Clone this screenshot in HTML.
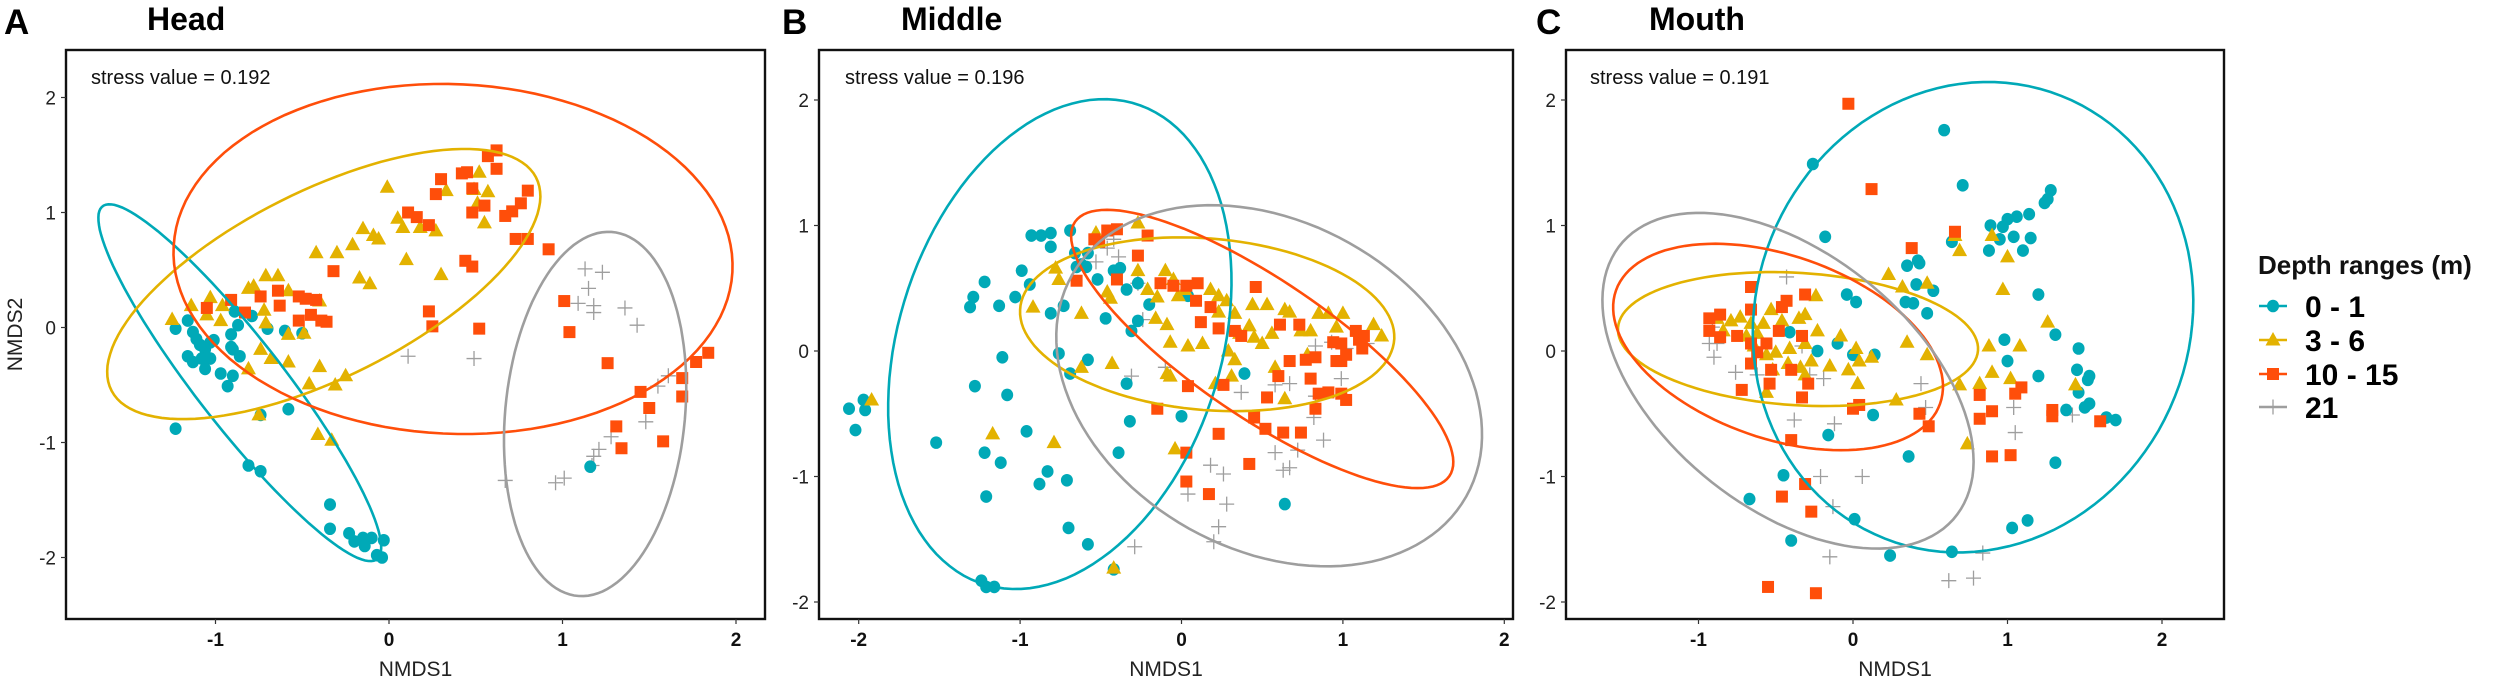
<!DOCTYPE html>
<html><head><meta charset="utf-8"><title>NMDS depth ranges</title>
<style>
html,body{margin:0;padding:0;background:#fff;}
svg{display:block;font-family:"Liberation Sans",Arial,sans-serif;}
</style></head>
<body>
<svg id="chart" width="2500" height="681" viewBox="0 0 2500 681" xmlns="http://www.w3.org/2000/svg"></svg>
<script>
// ---------- DATA ----------
const groupNames = ["0 - 1","3 - 6","10 - 15","21"];
const stressValues = ["0.192","0.196","0.191"];
const panelTitles = ["Head","Middle","Mouth"];
const panelLetters = ["A","B","C"];
const yTicks = [-2,-1,0,1,2];
const xTicksA = [-1,0,1,2];
const xTicksB = [-2,-1,0,1,2];
const xTicksC = [-1,0,1,2];

// Panel A (Head)
const headTealX = [-1.23,-1.16,-1.13,-1.11,-1.09,-1.06,-1.03,-1.01,-1.16,-1.13,-1.08,-1.03,-1.06,-0.97,-0.93,-0.90,-0.89,-0.87,-0.91,-0.91,-0.90,-0.86,-0.79,-0.70,-0.60,-0.50,-0.74,-0.58,-1.23,-0.81,-0.74,-0.34,-0.34,-0.23,-0.20,-0.15,-0.10,-0.14,-0.03,-0.07,-0.04,1.16];
const headTealY = [-0.01,0.06,-0.04,-0.10,-0.15,-0.19,-0.13,-0.11,-0.25,-0.30,-0.27,-0.27,-0.36,-0.40,-0.51,-0.42,0.14,0.02,-0.06,-0.17,-0.19,-0.25,0.10,-0.01,-0.03,-0.05,-0.76,-0.71,-0.88,-1.20,-1.25,-1.54,-1.75,-1.79,-1.86,-1.83,-1.83,-1.90,-1.85,-1.98,-2.00,-1.21];
const headYellowX = [-1.25,-1.14,-1.03,-1.05,-0.97,-0.96,-0.81,-0.78,-0.71,-0.64,-0.72,-0.71,-0.58,-0.40,-0.49,-0.58,-0.74,-0.68,-0.58,-0.81,-0.40,-0.46,-0.31,-0.25,-0.75,-0.41,-0.33,-0.42,-0.30,-0.21,-0.15,-0.09,-0.06,-0.17,-0.11,-0.01,0.05,0.08,0.18,0.27,0.10,0.30,0.33,0.52,0.49,0.57,0.55,0.51];
const headYellowY = [0.07,0.19,0.26,0.11,0.06,0.19,0.34,0.36,0.45,0.45,0.15,0.04,0.32,0.23,-0.05,-0.06,-0.19,-0.27,-0.30,-0.36,-0.34,-0.49,-0.50,-0.42,-0.76,-0.93,-0.98,0.65,0.65,0.72,0.86,0.80,0.77,0.43,0.38,1.22,0.95,0.87,0.87,0.84,0.59,0.46,1.19,1.35,1.20,1.18,0.91,1.08];
const headRedX = [-1.05,-0.91,-0.83,-0.74,-0.64,-0.63,-0.52,-0.48,-0.42,-0.52,-0.39,-0.36,-0.45,-0.32,0.11,0.16,0.23,0.27,0.30,0.42,0.45,0.48,0.48,0.57,0.62,0.62,0.55,0.67,0.71,0.76,0.80,0.73,0.80,0.92,0.44,0.48,0.23,0.25,0.52,1.01,1.04,1.26,1.45,1.50,1.31,1.34,1.58,1.69,1.69,1.77,1.84];
const headRedY = [0.17,0.24,0.13,0.27,0.32,0.19,0.27,0.25,0.24,0.06,0.06,0.05,0.11,0.49,1.00,0.96,0.89,1.16,1.29,1.34,1.35,1.21,1.00,1.49,1.54,1.38,1.06,0.97,1.01,1.08,1.19,0.77,0.77,0.68,0.58,0.53,0.14,0.01,-0.01,0.23,-0.04,-0.31,-0.56,-0.70,-0.86,-1.05,-0.99,-0.44,-0.60,-0.30,-0.22];
const headGrayX = [0.11,0.49,1.13,1.23,1.15,1.09,1.18,1.18,1.36,1.43,1.55,1.61,1.48,1.28,1.21,1.18,1.01,0.96,0.67,1.17];
const headGrayY = [-0.25,-0.27,0.51,0.48,0.34,0.21,0.19,0.13,0.17,0.02,-0.51,-0.42,-0.82,-0.95,-1.06,-1.12,-1.31,-1.35,-1.33,-1.20];

// Panel B (Middle)
const midTealX = [-2.06,-2.02,-1.97,-1.96,-1.52,-1.31,-1.29,-1.22,-1.13,-1.03,-0.99,-0.94,-0.81,-0.73,-0.76,-1.11,-1.28,-1.08,-1.22,-1.12,-1.21,-0.96,-0.83,-0.88,-0.71,-0.70,-0.58,-1.24,-1.16,-1.21,-0.42,-0.39,-0.32,-0.34,-0.69,-0.58,-0.47,-0.31,-0.27,-0.27,-0.34,-0.93,-0.87,-0.81,-0.81,-0.69,-0.66,-0.62,-0.58,-0.52,-0.42,-0.38,-0.65,-0.59,-0.20,0.04,0.00,0.39,0.64];
const midTealY = [-0.46,-0.63,-0.39,-0.47,-0.73,0.35,0.43,0.55,0.36,0.43,0.64,0.53,0.30,0.36,-0.02,-0.05,-0.28,-0.35,-0.81,-0.89,-1.16,-0.64,-0.96,-1.06,-1.03,-1.41,-1.54,-1.83,-1.88,-1.88,-1.74,-0.81,-0.56,-0.26,-0.18,-0.07,0.26,0.16,0.24,0.54,0.49,0.92,0.92,0.94,0.83,0.96,0.78,0.69,0.78,0.57,0.64,0.66,0.67,0.67,0.37,0.44,-0.52,-0.18,-1.22];
const midYellowX = [-1.92,-1.17,-0.79,-0.04,-0.42,-0.92,-0.78,-0.76,-0.62,-0.53,-0.46,-0.44,-0.27,-0.27,-0.21,-0.15,-0.10,-0.05,-0.02,0.02,-0.09,-0.16,-0.07,0.04,0.13,0.18,0.23,0.28,0.23,0.33,0.29,0.33,0.31,0.21,0.36,0.42,0.45,0.50,0.44,0.53,0.56,0.58,0.64,0.67,0.74,0.80,0.78,0.85,0.91,1.00,0.96,1.19,1.24,-0.62,-0.43,-0.09,-0.07,0.64];
const midYellowY = [-0.39,-0.66,-0.73,-0.78,-1.73,0.35,0.66,0.57,0.30,0.94,0.47,0.42,1.02,0.64,0.49,0.43,0.64,0.57,0.44,0.49,0.21,0.26,0.07,0.04,0.06,0.49,0.44,0.40,0.31,0.30,0.00,-0.07,-0.20,-0.26,0.14,0.20,0.11,0.06,0.37,0.37,0.14,-0.13,0.33,0.31,0.16,0.16,-0.03,0.30,0.30,0.30,0.19,0.21,0.12,-0.13,-0.10,-0.18,-0.20,-0.38];
const midRedX = [-0.65,-0.54,-0.51,-0.46,-0.40,-0.40,-0.27,-0.21,-0.13,-0.05,0.03,0.10,0.09,0.18,0.12,0.23,0.33,0.37,0.46,0.61,0.73,0.67,0.77,0.83,0.80,0.85,0.91,0.83,0.94,0.99,1.08,1.10,1.12,0.99,1.02,0.96,0.99,1.02,-0.15,0.04,0.26,0.53,0.45,0.52,0.63,0.74,0.23,0.42,0.03,0.03,0.17,0.60,1.13];
const midRedY = [0.56,0.89,0.87,0.96,0.97,0.57,0.76,0.92,0.54,0.52,0.52,0.54,0.40,0.35,0.23,0.18,0.16,0.12,0.51,0.21,0.21,-0.08,-0.07,-0.05,-0.22,-0.34,-0.33,-0.46,0.07,0.06,0.16,0.09,0.02,-0.08,-0.03,-0.08,-0.34,-0.39,-0.46,-0.28,-0.27,-0.37,-0.53,-0.62,-0.65,-0.65,-0.66,-0.90,-0.81,-1.04,-1.14,-0.20,0.12];
const midGrayX = [-0.42,-0.46,-0.53,-0.39,-0.27,-0.24,-0.31,-0.10,0.37,0.58,0.72,0.63,0.67,0.88,0.18,0.26,0.28,0.23,0.20,-0.29,0.04,0.83,0.93,1.02,1.15,0.99,0.83,0.82,0.58,0.67];
const midGrayY = [0.89,0.82,0.71,0.75,0.54,0.25,-0.20,-0.13,-0.33,-0.81,-0.79,-0.95,-0.93,-0.71,-0.91,-0.98,-1.22,-1.40,-1.52,-1.56,-1.14,0.04,0.07,0.02,0.06,-0.22,-0.36,-0.53,-0.27,-0.26];

// Panel C (Mouth)
const mouthTealX = [0.59,0.71,-0.26,-0.18,1.28,1.26,1.24,1.14,1.06,1.00,0.89,0.97,0.95,1.04,1.15,0.88,1.10,0.64,0.35,0.42,0.43,0.41,0.52,0.34,0.39,0.48,-0.04,0.02,1.20,0.98,1.31,1.00,1.46,1.45,1.53,1.52,1.20,1.46,1.53,1.50,1.38,1.64,1.70,1.31,0.14,-0.10,0.00,-0.23,-0.41,0.13,-0.16,0.36,-0.45,-0.67,0.01,-0.40,0.24,0.64,1.03,1.13];
const mouthTealY = [1.76,1.32,1.49,0.91,1.28,1.21,1.18,1.09,1.07,1.05,1.00,0.99,0.89,0.91,0.90,0.80,0.80,0.87,0.68,0.72,0.70,0.53,0.48,0.39,0.38,0.30,0.45,0.39,0.45,0.09,0.13,-0.08,0.02,-0.15,-0.20,-0.23,-0.20,-0.33,-0.42,-0.45,-0.47,-0.53,-0.55,-0.89,-0.03,0.06,-0.03,0.00,0.15,-0.51,-0.67,-0.84,-0.99,-1.18,-1.34,-1.51,-1.63,-1.60,-1.41,-1.35];
const mouthYellowX = [0.66,0.69,0.90,1.00,0.97,0.23,0.32,0.48,1.26,0.88,1.08,0.35,0.48,0.90,0.69,0.82,1.02,1.44,0.28,0.74,-0.08,0.02,0.12,0.04,-0.03,0.03,-0.15,-0.27,-0.31,-0.24,-0.31,-0.35,-0.23,-0.46,-0.53,-0.58,-0.62,-0.66,-0.73,-0.79,-0.88,-0.84,-0.69,-0.64,-0.56,-0.52,-0.56,-0.50,-0.41,-0.31,-0.42,-0.34];
const mouthYellowY = [0.92,0.80,0.92,0.75,0.49,0.61,0.51,0.54,0.23,0.04,0.04,0.07,-0.03,-0.17,-0.27,-0.26,-0.22,-0.27,-0.39,-0.74,0.12,0.02,-0.05,-0.08,-0.15,-0.26,-0.12,-0.08,-0.19,0.44,0.29,0.26,0.16,0.24,0.33,0.22,0.14,0.22,0.27,0.24,0.26,0.16,0.12,0.04,-0.03,-0.15,-0.33,-0.01,0.02,0.06,-0.10,-0.13];
const mouthRedX = [-0.03,0.12,0.38,0.66,-0.66,-0.31,-0.43,-0.46,-0.66,-0.86,-0.93,-0.93,-0.86,-0.75,-0.66,-0.62,-0.66,-0.53,-0.40,-0.54,-0.72,-0.29,-0.33,0.00,0.04,-0.40,0.43,0.49,0.82,0.82,0.90,1.09,1.05,1.29,1.29,1.60,0.90,1.02,-0.31,-0.46,-0.27,-0.55,-0.24,-0.33,-0.56,-0.48];
const mouthRedY = [1.97,1.29,0.82,0.95,0.51,0.45,0.40,0.35,0.33,0.29,0.26,0.16,0.11,0.12,0.06,-0.01,-0.10,-0.15,-0.15,-0.26,-0.31,-0.26,-0.37,-0.46,-0.43,-0.71,-0.50,-0.60,-0.35,-0.54,-0.48,-0.29,-0.34,-0.47,-0.52,-0.56,-0.84,-0.83,-1.06,-1.16,-1.28,-1.88,-1.93,0.12,0.06,0.16];
const mouthGrayX = [-0.43,-0.91,-0.93,-0.88,-0.90,-0.76,-0.62,-0.33,-0.28,-0.19,0.44,-0.12,-0.38,-0.21,0.06,-0.13,-0.15,0.62,0.78,0.84,1.04,1.05,1.42,0.47];
const mouthGrayY = [0.59,0.19,0.06,0.06,-0.05,-0.17,-0.19,0.04,-0.19,-0.22,-0.26,-0.58,-0.55,-1.00,-1.00,-1.24,-1.64,-1.83,-1.81,-1.61,-0.45,-0.65,-0.51,-0.45];

// Ellipses: [centerX, centerY, axis1X, axis1Y, axis2X, axis2Y] in data units (teal, yellow, red, gray)
const headEllipses = [[-0.86,-0.48,0.785,-1.54,-0.22,-0.19],[-0.376,0.378,1.208,0.965,0.315,-0.67],[0.369,0.596,1.611,-0.035,-0.027,1.522],[1.188,-0.752,0.094,1.583,0.517,-0.052]];
const midEllipses = [[-0.754,0.055,0.399,1.937,0.986,-0.241],[0.159,0.213,1.159,-0.079,-0.036,0.688],[0.5,0.016,1.145,-1.036,-0.301,-0.395],[0.543,-0.277,1.051,-1.146,-0.797,-0.87]];
const mouthEllipses = [[0.777,0.269,0.065,1.874,1.424,0.04],[-0.356,0.095,1.165,-0.063,-0.03,0.53],[-0.485,0.032,1.049,-0.451,-0.198,-0.688],[-0.421,-0.237,1.068,-1.107,-0.55,-0.751]];

// ---------- RENDER ----------
const colors = ["#00a9b7","#e3b200","#ff4e0a","#9e9e9e"];
const NS = "http://www.w3.org/2000/svg";
const svg = document.getElementById("chart");
function mk(tag, attrs, parent){
  const e = document.createElementNS(NS, tag);
  for (const k in attrs) e.setAttribute(k, attrs[k]);
  (parent||svg).appendChild(e);
  return e;
}
function linScale(d0,d1,r0,r1){ return v => r0 + (v-d0)*(r1-r0)/(d1-d0); }

const panels = [
  {frame:[66,50,765,619], x:linScale(0,1,389,562.5), y:linScale(0,1,327.5,212.5), xt:xTicksA, ylab:56,
   series:[[headTealX,headTealY],[headYellowX,headYellowY],[headRedX,headRedY],[headGrayX,headGrayY]], ell:headEllipses,
   letterX:4, titleX:147, stressX:91, nmds2:true},
  {frame:[819,50,1513,619], x:linScale(0,1,1181.5,1342.9), y:linScale(0,1,351,225.5), xt:xTicksB, ylab:809,
   series:[[midTealX,midTealY],[midYellowX,midYellowY],[midRedX,midRedY],[midGrayX,midGrayY]], ell:midEllipses,
   letterX:782, titleX:901, stressX:845},
  {frame:[1566,50,2224,619], x:linScale(0,1,1853,2007.5), y:linScale(0,1,351,225.5), xt:xTicksC, ylab:1556,
   series:[[mouthTealX,mouthTealY],[mouthYellowX,mouthYellowY],[mouthRedX,mouthRedY],[mouthGrayX,mouthGrayY]], ell:mouthEllipses,
   letterX:1536, titleX:1649, stressX:1590}
];

function drawMarker(g, kind, cx, cy, parent){
  let e;
  if (kind===0){ e = mk("ellipse",{cx:cx,cy:cy,rx:6,ry:6.3,fill:colors[0]},parent); }
  else if (kind===1){ e = mk("polygon",{points:`${cx},${cy-8} ${cx-7.5},${cy+5.5} ${cx+7.5},${cy+5.5}`,fill:colors[1]},parent); }
  else if (kind===2){ e = mk("rect",{x:cx-6,y:cy-6,width:12,height:12,fill:colors[2]},parent); }
  else { e = mk("path",{d:`M${cx-7.5},${cy}H${cx+7.5}M${cx},${cy-7.5}V${cy+7.5}`,stroke:colors[3],"stroke-width":1.3,fill:"none"},parent); }
  return e;
}

panels.forEach((p, pi) => {
  const [L,T,R,B] = p.frame;
  const pg = mk("g",{});
  
  

  const clipId = "clip"+pi;
  const cp = mk("clipPath",{id:clipId},pg);
  mk("rect",{x:L,y:T,width:R-L,height:B-T},cp);

  const ptsG = mk("g",{"clip-path":`url(#${clipId})`},pg);
  
  
  [3,0,1,2].forEach(gi => {
    const xs = p.series[gi][0], ys = p.series[gi][1];
    for (let i=0;i<xs.length;i++){
      const m = drawMarker(null, gi, p.x(xs[i]), p.y(ys[i]), ptsG);
      
      
    }
  });

  p.ell.forEach((e, gi) => {
    let d = "";
    for (let k=0;k<=120;k++){
      const t = k/120*2*Math.PI;
      const vx = e[0] + e[2]*Math.cos(t) + e[4]*Math.sin(t);
      const vy = e[1] + e[3]*Math.cos(t) + e[5]*Math.sin(t);
      d += (k?"L":"M") + p.x(vx).toFixed(1) + "," + p.y(vy).toFixed(1);
    }
    const el = mk("path",{d:d+"Z",fill:"none",stroke:colors[gi],"stroke-width":2.6,"clip-path":`url(#${clipId})`},pg);
    
    
  });

  const fr = mk("rect",{x:L,y:T,width:R-L,height:B-T,fill:"none",stroke:"#111","stroke-width":2.4},pg);
  
  

  yTicks.forEach(v => {
    const yy = p.y(v);
    mk("line",{x1:L-5,x2:L,y1:yy,y2:yy,stroke:"#333","stroke-width":1.2},pg);
    const t = mk("text",{x:p.ylab,y:yy+7,"text-anchor":"end","font-size":19,fill:"#222"},pg);
    t.textContent = String(v);
    
    
  });
  p.xt.forEach(v => {
    const xx = p.x(v);
    mk("line",{x1:xx,x2:xx,y1:B,y2:B+5,stroke:"#333","stroke-width":1.2},pg);
    const t = mk("text",{x:xx,y:646,"text-anchor":"middle","font-size":19,"font-weight":"bold",fill:"#111"},pg);
    t.textContent = String(v);
    
    
  });
  const xt = mk("text",{x:(L+R)/2,y:676,"text-anchor":"middle","font-size":21,fill:"#222"},pg);
  xt.textContent = "NMDS1";
  
  
  if (p.nmds2){
    const yt = mk("text",{x:0,y:0,"text-anchor":"middle","font-size":21,fill:"#222",transform:`translate(22,${(T+B)/2}) rotate(-90)`},pg);
    yt.textContent = "NMDS2";
    
    
  }
  const st = mk("text",{x:p.stressX,y:84,"font-size":20,fill:"#111"},pg);
  st.textContent = "stress value = " + stressValues[pi];
  
  
  const lt = mk("text",{x:p.letterX,y:34,"font-size":35,"font-weight":"bold",fill:"#000"},pg);
  lt.textContent = panelLetters[pi];
  
  
  const tt = mk("text",{x:p.titleX,y:30,"font-size":32,"font-weight":"bold",fill:"#000"},pg);
  tt.textContent = panelTitles[pi];
  
  
});

const lg = mk("g",{});


const ltitle = mk("text",{x:2258,y:274,"font-size":26,"font-weight":"bold",fill:"#111"},lg);
ltitle.textContent = "Depth ranges (m)";


const legY = [306,340,374,407];
groupNames.forEach((n, gi) => {
  const eg = mk("g",{},lg);
  
  
  mk("line",{x1:2259,x2:2287,y1:legY[gi],y2:legY[gi],stroke:colors[gi],"stroke-width":2.6},eg);
  drawMarker(null, gi, 2273, legY[gi], eg);
  const t = mk("text",{x:2305,y:legY[gi]+11,"font-size":30,"font-weight":"bold",fill:"#000"},eg);
  t.textContent = n;
});
</script>
</body></html>
